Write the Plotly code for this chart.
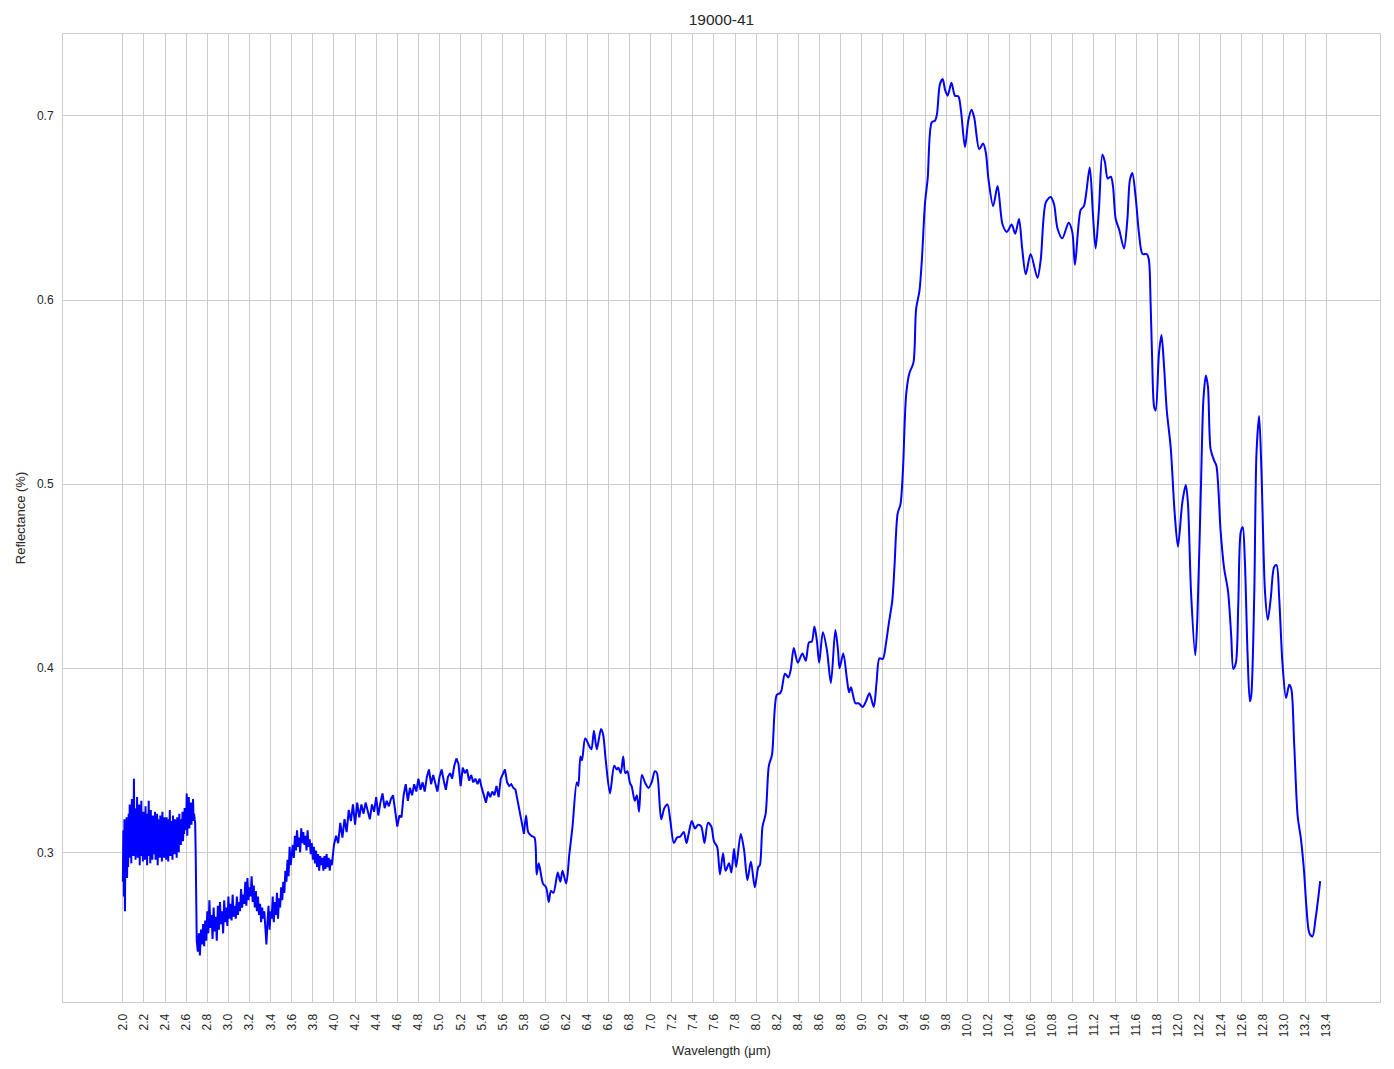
import numpy as np
import plotly.graph_objects as go

# ---- noisy part A: 2.000 .. 2.700 um, sampled every 0.005 um
a_start, a_step = 2.0, 0.005
refl_a = [
    0.284, 0.312, 0.276, 0.318, 0.268, 0.309, 0.288, 0.319, 0.286, 0.314,
    0.292, 0.321, 0.297, 0.326, 0.301, 0.318, 0.294, 0.329, 0.303, 0.322,
    0.298, 0.340, 0.306, 0.324, 0.296, 0.321, 0.300, 0.330, 0.297, 0.318,
    0.304, 0.326, 0.293, 0.320, 0.301, 0.328, 0.298, 0.317, 0.295, 0.322,
    0.303, 0.319, 0.296, 0.325, 0.300, 0.316, 0.293, 0.321, 0.302, 0.328,
    0.298, 0.318, 0.294, 0.323, 0.300, 0.315, 0.296, 0.320, 0.303, 0.317,
    0.299, 0.322, 0.296, 0.316, 0.302, 0.321, 0.293, 0.318, 0.300, 0.314,
    0.297, 0.320, 0.303, 0.317, 0.295, 0.322, 0.300, 0.313, 0.297, 0.319,
    0.302, 0.316, 0.296, 0.319, 0.301, 0.314, 0.295, 0.318, 0.303, 0.323,
    0.298, 0.317, 0.302, 0.313, 0.296, 0.320, 0.304, 0.316, 0.299, 0.318,
    0.303, 0.315, 0.297, 0.319, 0.305, 0.314, 0.300, 0.321, 0.306, 0.317,
    0.304, 0.318, 0.308, 0.322, 0.306, 0.316, 0.310, 0.324, 0.312, 0.320,
    0.314, 0.332, 0.309, 0.324, 0.316, 0.330, 0.313, 0.322, 0.318, 0.327,
    0.315, 0.325, 0.319, 0.329, 0.317, 0.321, 0.318, 0.316, 0.300, 0.275,
    0.252,
]

# ---- noisy part B: 2.71 .. 3.60 um, every 0.01 um
b_start, b_step = 2.71, 0.01
refl_b = [
    0.246, 0.256, 0.244, 0.258, 0.250, 0.261, 0.249, 0.263, 0.252, 0.268,
    0.256, 0.274, 0.259, 0.266, 0.253, 0.270, 0.257, 0.265, 0.252, 0.271,
    0.258, 0.273, 0.261, 0.268, 0.256, 0.274, 0.262, 0.270, 0.260, 0.276,
    0.264, 0.272, 0.263, 0.277, 0.265, 0.271, 0.264, 0.276, 0.266, 0.273,
    0.268, 0.280, 0.270, 0.277, 0.272, 0.284, 0.271, 0.286, 0.274, 0.281,
    0.276, 0.287, 0.273, 0.282, 0.270, 0.279, 0.268, 0.276, 0.266, 0.272,
    0.262, 0.270, 0.264, 0.268, 0.259, 0.250, 0.262, 0.271, 0.258, 0.268,
    0.264, 0.276, 0.262, 0.273, 0.266, 0.278, 0.264, 0.275, 0.270, 0.281,
    0.274, 0.284, 0.278, 0.290, 0.284, 0.296, 0.287, 0.303, 0.293, 0.301,
]

# ---- noisy part C1: 3.61 .. 4.00 um, every 0.01 um
c1_start, c1_step = 3.61, 0.01
refl_c1 = [
    0.304, 0.297, 0.309, 0.301, 0.312, 0.303, 0.308, 0.300, 0.313, 0.305,
    0.311, 0.304, 0.309, 0.301, 0.312, 0.303, 0.307, 0.299, 0.305, 0.296,
    0.303, 0.294, 0.301, 0.292, 0.299, 0.290, 0.298, 0.293, 0.297, 0.290,
    0.298, 0.291, 0.299, 0.292, 0.297, 0.290, 0.296, 0.293, 0.298, 0.304,
]

# ---- noisy part C2: 4.02 .. 5.80 um, every 0.02 um
c2_start, c2_step = 4.02, 0.02
refl_c2 = [
    0.309, 0.305, 0.316, 0.308, 0.318, 0.311, 0.323, 0.317, 0.326, 0.315,
    0.327, 0.319, 0.326, 0.321, 0.327, 0.322, 0.318, 0.326, 0.322, 0.330,
    0.320, 0.327, 0.332, 0.324, 0.328, 0.325, 0.329, 0.331, 0.322, 0.314,
    0.320, 0.319, 0.331, 0.337, 0.328, 0.335, 0.331, 0.337, 0.333, 0.340,
    0.334, 0.338, 0.333, 0.341, 0.345, 0.337, 0.342, 0.338, 0.333, 0.341,
    0.345, 0.339, 0.334, 0.341, 0.343, 0.340, 0.347, 0.351, 0.348, 0.336,
    0.346, 0.343, 0.345, 0.339, 0.342, 0.338, 0.340, 0.337, 0.340, 0.335,
    0.331, 0.327, 0.333, 0.330, 0.333, 0.331, 0.336, 0.330, 0.340, 0.343,
    0.345, 0.338, 0.336, 0.337, 0.335, 0.334, 0.328, 0.323, 0.316, 0.310,
]

# ---- smooth part D: key samples (wavelength, reflectance)
wl_d = [
    5.82, 5.84, 5.87, 5.90, 5.92, 5.94, 5.98, 6.01, 6.035, 6.055,
    6.08, 6.12, 6.145, 6.165, 6.20, 6.23, 6.26, 6.30, 6.315, 6.335,
    6.35, 6.38, 6.425, 6.44, 6.463, 6.49, 6.53, 6.55, 6.575, 6.615,
    6.655, 6.68, 6.695, 6.717, 6.74, 6.76, 6.78, 6.805, 6.82, 6.85,
    6.87, 6.89, 6.917, 6.95, 6.98, 7.01, 7.04, 7.06, 7.10, 7.13,
    7.16, 7.187, 7.22, 7.25, 7.28, 7.314, 7.34, 7.36, 7.39, 7.42,
    7.45, 7.48, 7.51, 7.543, 7.575, 7.60, 7.63, 7.657, 7.686, 7.71,
    7.743, 7.765, 7.79, 7.81, 7.854, 7.886, 7.917, 7.95, 7.987, 8.02,
    8.035, 8.06, 8.09, 8.12, 8.15, 8.195, 8.225, 8.24, 8.273, 8.305,
    8.327, 8.356, 8.394, 8.438, 8.47, 8.50, 8.527, 8.552, 8.575, 8.597,
    8.632, 8.67, 8.708, 8.75, 8.775, 8.79, 8.825, 8.86, 8.88, 8.898,
    8.94, 8.97, 9.01, 9.04, 9.073, 9.114, 9.14, 9.168, 9.20, 9.23,
    9.257, 9.29, 9.31, 9.34, 9.367, 9.39, 9.42, 9.45, 9.49, 9.515,
    9.547, 9.57, 9.60, 9.625, 9.663, 9.695, 9.713, 9.74, 9.767, 9.79,
    9.814, 9.85, 9.883, 9.915, 9.94, 9.978, 10.01, 10.04, 10.066, 10.113,
    10.15, 10.176, 10.20, 10.245, 10.287, 10.334, 10.375, 10.42, 10.454, 10.49,
    10.52, 10.554, 10.60, 10.665, 10.696, 10.744, 10.79, 10.822, 10.854, 10.90,
    10.96, 10.995, 11.02, 11.074, 11.105, 11.16, 11.19, 11.216, 11.247, 11.28,
    11.304, 11.33, 11.36, 11.38, 11.406, 11.44, 11.485, 11.517, 11.54, 11.564,
    11.595, 11.627, 11.66, 11.70, 11.72, 11.737, 11.75, 11.77, 11.785, 11.816,
    11.84, 11.864, 11.89, 11.927, 11.965, 11.996, 12.037, 12.07, 12.09, 12.12,
    12.16, 12.18, 12.213, 12.237, 12.26, 12.28, 12.305, 12.337, 12.36, 12.40,
    12.434, 12.47, 12.50, 12.52, 12.545, 12.567, 12.59, 12.61, 12.63, 12.655,
    12.677, 12.69, 12.718, 12.74, 12.765, 12.787, 12.82, 12.847, 12.875, 12.907,
    12.93, 12.955, 12.986, 13.02, 13.05, 13.07, 13.097, 13.13, 13.16, 13.19,
    13.213, 13.24, 13.27, 13.30, 13.327, 13.343,
]
refl_d = [
    0.320, 0.311, 0.309, 0.308, 0.288, 0.294, 0.283, 0.281, 0.273, 0.279,
    0.278, 0.289, 0.284, 0.290, 0.283, 0.299, 0.314, 0.338, 0.336, 0.352,
    0.350, 0.362, 0.357, 0.356, 0.366, 0.356, 0.367, 0.364, 0.350, 0.332,
    0.347, 0.345, 0.346, 0.343, 0.352, 0.343, 0.344, 0.3375, 0.336, 0.328,
    0.331, 0.322, 0.342, 0.3375, 0.335, 0.338, 0.344, 0.343, 0.318, 0.324,
    0.326, 0.317, 0.305, 0.308, 0.3085, 0.311, 0.305, 0.310, 0.317, 0.313,
    0.315, 0.314, 0.305, 0.316, 0.314, 0.306, 0.303, 0.288, 0.2995, 0.290,
    0.294, 0.289, 0.302, 0.292, 0.310, 0.301, 0.285, 0.295, 0.281, 0.292,
    0.293, 0.314, 0.321, 0.347, 0.353, 0.3855, 0.3864, 0.388, 0.397, 0.395,
    0.399, 0.411, 0.403, 0.408, 0.404, 0.414, 0.4145, 0.4226, 0.415, 0.403,
    0.4196, 0.410, 0.392, 0.4208, 0.410, 0.400, 0.408, 0.394, 0.387, 0.3897,
    0.381, 0.381, 0.379, 0.382, 0.3864, 0.379, 0.392, 0.4054, 0.405, 0.4136,
    0.4245, 0.437, 0.455, 0.484, 0.489, 0.507, 0.548, 0.560, 0.566, 0.595,
    0.605, 0.622, 0.653, 0.666, 0.6965, 0.6975, 0.701, 0.717, 0.720, 0.714,
    0.711, 0.718, 0.711, 0.7107, 0.703, 0.683, 0.6975, 0.7033, 0.699, 0.682,
    0.685, 0.680, 0.666, 0.651, 0.662, 0.641, 0.637, 0.641, 0.636, 0.644,
    0.628, 0.614, 0.625, 0.612, 0.622, 0.653, 0.656, 0.652, 0.639, 0.6335,
    0.642, 0.637, 0.619, 0.649, 0.651, 0.672, 0.647, 0.628, 0.649, 0.679,
    0.675, 0.666, 0.667, 0.662, 0.644, 0.638, 0.628, 0.644, 0.665, 0.669,
    0.656, 0.636, 0.625, 0.625, 0.622, 0.598, 0.571, 0.542, 0.540, 0.571,
    0.581, 0.564, 0.540, 0.520, 0.484, 0.466, 0.490, 0.4995, 0.490, 0.441,
    0.407, 0.428, 0.497, 0.546, 0.559, 0.553, 0.519, 0.513, 0.510, 0.4745,
    0.454, 0.442, 0.418, 0.3996, 0.403, 0.434, 0.4737, 0.4767, 0.458, 0.4085,
    0.382, 0.385, 0.438, 0.517, 0.537, 0.507, 0.442, 0.4263, 0.438, 0.455,
    0.456, 0.438, 0.4026, 0.3838, 0.391, 0.3887, 0.359, 0.3196, 0.3077, 0.290,
    0.2702, 0.2563, 0.2543, 0.2642, 0.2761, 0.2844,
]

tick_vals = [round(2.0 + 0.2 * i, 1) for i in range(58)]
tick_text = [f"{v:.1f}" for v in tick_vals]
y_ticks = [0.3, 0.4, 0.5, 0.6, 0.7]


def grid(start, step, n):
    return list(np.round(start + step * np.arange(n), 3))


wl_noisy = (grid(a_start, a_step, len(refl_a)) + grid(b_start, b_step, len(refl_b))
            + grid(c1_start, c1_step, len(refl_c1)) + grid(c2_start, c2_step, len(refl_c2)))
refl_noisy = refl_a + refl_b + refl_c1 + refl_c2

FONT = "Liberation Sans, Arial, sans-serif"
TXT = "#262626"
GRID = "#cccccc"

fig = go.Figure()
fig.add_trace(go.Scatter(x=wl_noisy, y=refl_noisy, mode="lines",
                         line=dict(color="#0000ff", width=2), showlegend=False))
fig.add_trace(go.Scatter(x=[wl_noisy[-1]] + wl_d, y=[refl_noisy[-1]] + refl_d, mode="lines",
                         line=dict(color="#0000ff", width=2, shape="spline", smoothing=0.8),
                         showlegend=False))

fig.update_layout(
    width=1394, height=1069,
    margin=dict(l=52, r=22, t=26, b=75),
    paper_bgcolor="white", plot_bgcolor="white",
    font=dict(family=FONT, size=12, color=TXT),
    title=dict(text="19000-41", x=0.5, xref="paper", y=1 - 12 / 1069, yanchor="middle",
               font=dict(family=FONT, size=15.5, color=TXT)),
    xaxis=dict(
        range=[1.433, 13.910], tickvals=tick_vals, ticktext=tick_text, tickangle=-90,
        showgrid=True, gridcolor=GRID, gridwidth=1, zeroline=False,
        showline=True, linecolor=GRID, linewidth=1, mirror=True, ticks="",
        ticklabelstandoff=6,
        tickfont=dict(family=FONT, size=12, color=TXT),
        title=dict(text="Wavelength (μm)", standoff=9, font=dict(family=FONT, size=13, color=TXT)),
    ),
    yaxis=dict(
        range=[0.2187, 0.7445], tickvals=y_ticks, ticktext=[f"{v:.1f}" for v in y_ticks],
        showgrid=True, gridcolor=GRID, gridwidth=1, zeroline=False,
        showline=True, linecolor=GRID, linewidth=1, mirror=True, ticks="",
        ticklabelstandoff=6,
        tickfont=dict(family=FONT, size=12, color=TXT),
        title=dict(text="Reflectance (%)", standoff=8, font=dict(family=FONT, size=13, color=TXT)),
    ),
)

fig.write_html("out.html")
